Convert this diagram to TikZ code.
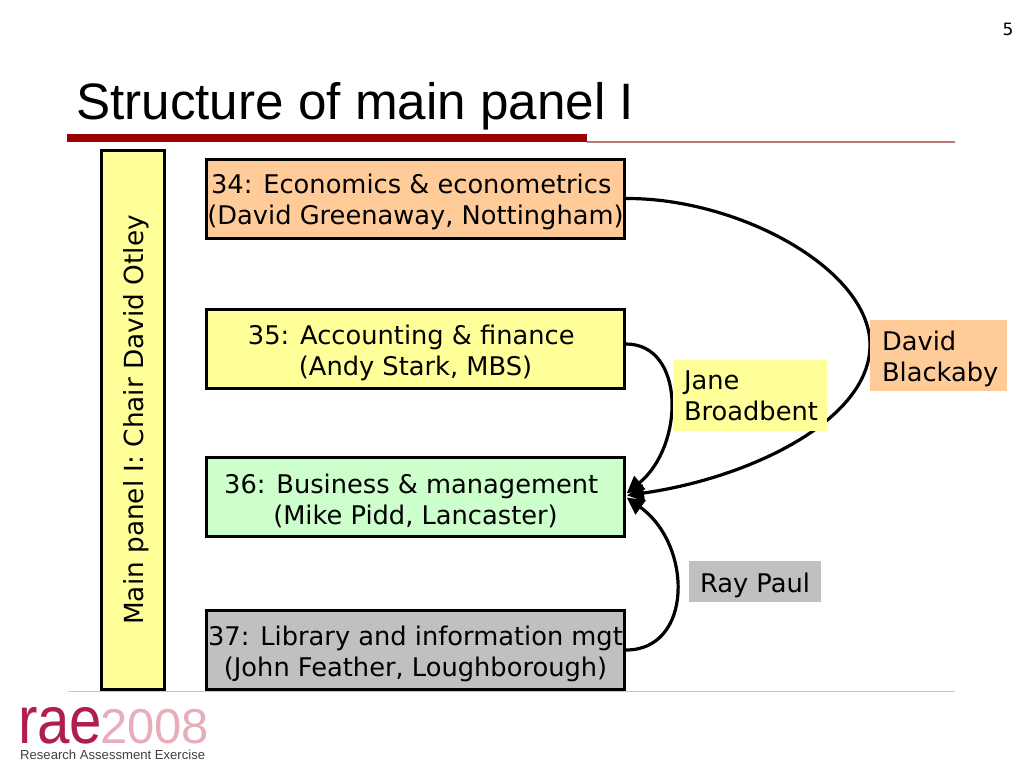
\documentclass[tikz,border=0pt]{standalone}
\usepackage{fontspec}
\setmainfont{DejaVu Sans}
\newfontfamily\arialfont{Liberation Sans}
\definecolor{rulered}{HTML}{990000}
\definecolor{rulethin}{HTML}{B87A7A}
\definecolor{footline}{HTML}{B5CFCF}
\definecolor{boxorange}{HTML}{FFCC99}
\definecolor{boxyellow}{HTML}{FFFF99}
\definecolor{boxgreen}{HTML}{CCFFCC}
\definecolor{boxgrey}{HTML}{C0C0C0}
\definecolor{raered}{HTML}{B01E50}
\definecolor{raepink}{HTML}{E6AEB8}
\newcommand{\gapend}{\hspace*{.33em}}
\newcommand{\toppad}{\rule{0pt}{27pt}}
\tikzset{
    panelbox/.style={draw=black, line width=3pt, minimum width=418pt, minimum height=79pt,
        inner sep=0pt, align=center, font=\fontsize{25.7}{31}\selectfont},
    namebox/.style={inner sep=0pt, align=left, font=\fontsize{25.7}{31}\selectfont},
    conn/.style={-{Triangle[length=17pt,width=17pt]}, line width=3.2pt, shorten >=1pt},
}
\usetikzlibrary{arrows.meta}
\begin{document}
\begin{tikzpicture}[x=1pt,y=-1pt]
    \useasboundingbox (0,0) rectangle (1024,768);

    % Titel und Linien
    \node[anchor=base west, inner sep=0pt, font=\arialfont\fontsize{51.2}{60}\selectfont] (title) at (76,119) {Structure of main panel I};
    \node[font=\fontsize{17}{20}\selectfont, inner sep=0pt] (pagenr) at (1008,29) {5};
    \fill[rulethin] (587,141) rectangle (955,143);
    \fill[rulered] (67,134) rectangle (587,142);
    \fill[footline] (68,691) rectangle (955,692);

    % Panels
    \node[panelbox, fill=boxyellow, rotate=90, minimum width=539pt, minimum height=63pt, font=\fontsize{26.3}{31}\selectfont, text depth=0pt, text height=20pt] (chair) at (133,420) {Main panel I: Chair David Otley};
    \node[panelbox, fill=boxorange] (econ) at (415.5,198.5) {\toppad 34: Economics \& econometrics\gapend\\(David Greenaway, Nottingham)};
    \node[panelbox, fill=boxyellow] (acc) at (415.5,349) {\toppad 35: Accounting \& finance\gapend\\(Andy Stark, MBS)};
    \node[panelbox, fill=boxgreen] (bus) at (415.5,497) {\toppad 36: Business \& management\gapend\\(Mike Pidd, Lancaster)};
    \node[panelbox, fill=boxgrey] (lib) at (415.5,650) {\toppad 37: Library and information mgt\\(John Feather, Loughborough)};

    % Pfeile
    \coordinate (bend) at (870,345);
    \draw[conn] ([yshift=5pt]acc.east) .. controls (685,344) and (685,445) .. ([yshift=3pt]bus.east);
    \draw[conn] (econ.east) .. controls (740,198) and (870,270) .. (bend) .. controls (870,420) and (750,478) .. ([yshift=1.5pt]bus.east);
    \draw[conn] (lib.east) .. controls (693,650) and (693,545) .. (bus.east);

    % Namen
    \node[namebox, fill=boxyellow, minimum width=154pt, minimum height=71pt, text width=132pt] (jane) at (750,395.5) {\rule{0pt}{20pt}Jane\\Broadbent};
    \node[namebox, fill=boxorange, minimum width=137pt, minimum height=71pt, text width=113pt] (david) at (938.5,355.5) {\toppad David\\Blackaby};
    \node[namebox, fill=boxgrey, minimum width=132pt, minimum height=41pt, align=center] (ray) at (755,581.5) {\toppad Ray Paul};

    % Logo
    \node[anchor=base west, inner sep=0pt, xscale=.87, text=raered, text depth=0pt, font=\arialfont\fontsize{67}{70}\selectfont] (rae) at (18,743) {rae};
    \node[anchor=base west, inner sep=0pt, text=raepink, text depth=0pt, font=\arialfont\fontsize{49}{52}\selectfont] (year) at (100,743) {2008};
    \node[anchor=base west, inner sep=0pt, text=black!75, font=\arialfont\fontsize{13.1}{15}\selectfont] (raename) at (20,759) {Research Assessment Exercise};
\end{tikzpicture}
\end{document}
